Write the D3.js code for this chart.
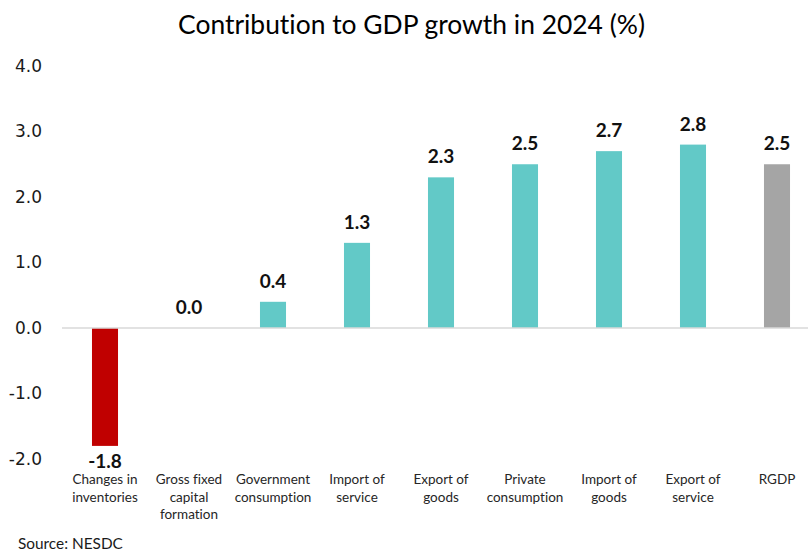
<!DOCTYPE html>
<html>
<head>
<meta charset="utf-8">
<script src="https://cdn.jsdelivr.net/npm/d3@7/dist/d3.min.js"></script>
<style>
  html, body { margin: 0; padding: 0; background: #fff; }
  svg { display: block; }
  svg text { font-variant-ligatures: none; }
</style>
</head>
<body>
<svg id="chart" width="808" height="553"></svg>
<script>
// Contribution to GDP growth, 2024 (percentage points)
const categories = [
  "Changes in inventories",
  "Gross fixed capital formation",
  "Government consumption",
  "Import of service",
  "Export of goods",
  "Private consumption",
  "Import of goods",
  "Export of service",
  "RGDP"
];
const categoryLines = [
  ["Changes in", "inventories"],
  ["Gross fixed", "capital", "formation"],
  ["Government", "consumption"],
  ["Import of", "service"],
  ["Export of", "goods"],
  ["Private", "consumption"],
  ["Import of", "goods"],
  ["Export of", "service"],
  ["RGDP"]
];
const values = [-1.8, 0.0, 0.4, 1.3, 2.3, 2.5, 2.7, 2.8, 2.5];
const yTicks = [-2, -1, 0, 1, 2, 3, 4];
const titleText = "Contribution to GDP growth in 2024 (%)";
const sourceText = "Source: NESDC";

const svg = d3.select("#chart");

const x = d3.scaleBand()
  .domain(categories)
  .range([63, 819])
  .paddingInner(0.69)
  .paddingOuter(0.345);

const y = d3.scaleLinear()
  .domain([-2, 4])
  .range([459, 66]);

// one decimal, plain hyphen for negatives
const fmt = v => d3.format(".1f")(v).replace("\u2212", "-");

function barColor(d, i) {
  if (categories[i] === "RGDP") return "#A5A5A5";
  return d < 0 ? "#C00000" : "#62C9C7";
}

// fit a text element to a target width by scaling its font size
function fitWidth(sel, target) {
  const node = sel.node();
  const fs = parseFloat(sel.attr("font-size"));
  const w = node.getComputedTextLength();
  if (w > 0) sel.attr("font-size", (fs * target / w).toFixed(2));
}

// title
const title = svg.append("text")
  .attr("x", 411.5)
  .attr("y", 34)
  .attr("text-anchor", "middle")
  .attr("font-family", "Lato, 'Open Sans', sans-serif")
  .attr("font-size", 28)
  .attr("fill", "#000")
  .text(titleText);
fitWidth(title, 467);

// y axis labels (no line, no ticks)
const yAxis = d3.axisLeft(y)
  .tickValues(yTicks)
  .tickFormat(fmt)
  .tickSize(0)
  .tickPadding(0);
const yg = svg.append("g")
  .attr("transform", "translate(42,0)")
  .call(yAxis);
yg.select(".domain").remove();
yg.selectAll("text")
  .attr("font-family", "'DejaVu Sans', sans-serif")
  .attr("font-size", 17)
  .attr("fill", "#1a1a1a");

// bars
svg.append("g").selectAll("rect")
  .data(values)
  .join("rect")
  .attr("x", (d, i) => x(categories[i]))
  .attr("width", x.bandwidth())
  .attr("y", d => y(Math.max(0, d)))
  .attr("height", d => Math.abs(y(d) - y(0)))
  .attr("fill", (d, i) => barColor(d, i));

// zero line
svg.append("line")
  .attr("x1", 62)
  .attr("x2", 808)
  .attr("y1", y(0))
  .attr("y2", y(0))
  .attr("stroke", "#D9D9D9")
  .attr("stroke-width", 1.5);

// value labels
svg.append("g").selectAll("text")
  .data(values)
  .join("text")
  .attr("x", (d, i) => x(categories[i]) + x.bandwidth() / 2)
  .attr("y", d => d < 0 ? y(d) + 22 : y(d) - 14)
  .attr("text-anchor", "middle")
  .attr("font-family", "Lato, 'Open Sans', sans-serif")
  .attr("font-weight", "bold")
  .attr("font-size", 19)
  .attr("fill", "#111")
  .text(fmt);

// category labels
const catG = svg.append("g");
categoryLines.forEach((lines, i) => {
  const t = catG.append("text")
    .attr("x", x(categories[i]) + x.bandwidth() / 2)
    .attr("y", 484)
    .attr("text-anchor", "middle")
    .attr("font-family", "Lato, 'Open Sans', sans-serif")
    .attr("font-size", 13.5)
    .attr("fill", "#262626");
  lines.forEach((ln, j) => {
    t.append("tspan")
      .attr("x", x(categories[i]) + x.bandwidth() / 2)
      .attr("dy", j === 0 ? 0 : 17.5)
      .text(ln);
  });
});

// source note
const src = svg.append("text")
  .attr("x", 18)
  .attr("y", 549)
  .attr("font-family", "Lato, 'Open Sans', sans-serif")
  .attr("font-size", 15)
  .attr("fill", "#1a1a1a")
  .text(sourceText);
fitWidth(src, 105);
</script>
</body>
</html>
